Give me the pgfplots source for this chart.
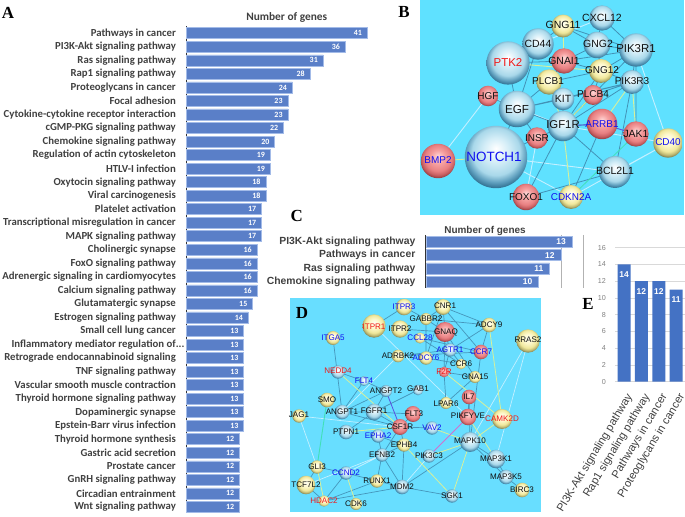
\documentclass[border=0pt]{standalone}
\usepackage{pgfplots}
\usepackage{fontspec}
\pgfplotsset{compat=1.18}
\setmainfont{Liberation Sans}
\newfontfamily\calf{Carlito}
\newfontfamily\timf{Liberation Serif}
\definecolor{txt}{HTML}{404040}
\definecolor{barA}{HTML}{5A7FC8}
\definecolor{barAe}{HTML}{A3BBE8}
\definecolor{barE}{HTML}{4472C4}
\definecolor{panelB}{HTML}{5FE1FF}
\definecolor{panelD}{HTML}{68DEFF}
\definecolor{edk}{HTML}{3D85AA}
\definecolor{elt}{HTML}{C4F0FF}
\definecolor{eyl}{HTML}{D8F09A}
\definecolor{etl}{HTML}{40E0B8}
\definecolor{epp}{HTML}{5A4FE0}
\definecolor{emg}{HTML}{D070D0}
\definecolor{bA}{HTML}{FFFFFF}\definecolor{bB}{HTML}{D3EDF7}\definecolor{bC}{HTML}{A9D8EA}\definecolor{bD}{HTML}{5F9FBE}\definecolor{bE}{HTML}{2F6F90}
\definecolor{rA}{HTML}{FFD8D8}\definecolor{rB}{HTML}{F5A0A0}\definecolor{rC}{HTML}{E88082}\definecolor{rD}{HTML}{C85F62}\definecolor{rE}{HTML}{8F3A3E}
\definecolor{yA}{HTML}{FFFFF4}\definecolor{yB}{HTML}{FDF8CC}\definecolor{yC}{HTML}{F0E89C}\definecolor{yD}{HTML}{BDB873}\definecolor{yE}{HTML}{77774A}
\pgfdeclareradialshading{bluesh}{\pgfpoint{0bp}{7bp}}{color(0bp)=(bA);color(10bp)=(bB);color(19bp)=(bC);color(24bp)=(bD);color(28bp)=(bE);color(50bp)=(bE)}
\pgfdeclareradialshading{redsh}{\pgfpoint{0bp}{7bp}}{color(0bp)=(rA);color(10bp)=(rB);color(19bp)=(rC);color(24bp)=(rD);color(28bp)=(rE);color(50bp)=(rE)}
\pgfdeclareradialshading{yelsh}{\pgfpoint{0bp}{7bp}}{color(0bp)=(yA);color(10bp)=(yB);color(19bp)=(yC);color(24bp)=(yD);color(28bp)=(yE);color(50bp)=(yE)}
\pgfdeclareplotmark{bb}{\pgfpathcircle{\pgfpointorigin}{\pgfplotmarksize}\pgfshadepath{bluesh}{0}\pgfusepath{discard}}
\pgfdeclareplotmark{rb}{\pgfpathcircle{\pgfpointorigin}{\pgfplotmarksize}\pgfshadepath{redsh}{0}\pgfusepath{discard}}
\pgfdeclareplotmark{yb}{\pgfpathcircle{\pgfpointorigin}{\pgfplotmarksize}\pgfshadepath{yelsh}{0}\pgfusepath{discard}}
\newcommand\B[4]{\addplot[only marks,mark=#4,mark size=#3] coordinates {(#1,#2)};}
\newcommand\Lb[5]{\node[inner sep=0pt,text=#4,font=\fontsize{#5}{#5}\selectfont] at (axis cs:#1,#2) {#3};}
\newcommand\Ld[4]{\node[inner sep=0pt,text=#4,font=\fontsize{8.1}{8.1}\selectfont] at (axis cs:#1,#2) {#3};}
\definecolor{lr}{HTML}{F01818}
\definecolor{lb}{HTML}{1010F0}
\definecolor{lk}{HTML}{101010}
\begin{document}
\begin{tikzpicture}[x=1bp,y=1bp]
\useasboundingbox (0,0) rectangle (685,517);
% networks B and D on the pixel grid of the figure
\begin{axis}[at={(0,0)},anchor=south west,scale only axis,width=685bp,height=517bp,
  xmin=0,xmax=685,ymin=0,ymax=517,y dir=reverse,hide axis,clip=false,unbounded coords=jump]
\addplot[draw=none,fill=panelB] coordinates {(420,0)(684,0)(684,215)(420,215)} --cycle;
\addplot[draw=none,fill=panelD] coordinates {(290,298)(541,298)(541,512)(290,512)} --cycle;
% B edges
\addplot[elt,line width=0.9pt] coordinates {(488,96)(438,161)(nan,nan)(488,96)(563,126)(nan,nan)(496,157)(615,172)(nan,nan)(668,143)(571,197)(nan,nan)(602,18)(538,44)(nan,nan)(496,157)(571,197)(nan,nan)(537,138)(526,197)(nan,nan)(563,126)(668,143)(nan,nan)(615,172)(668,143)(nan,nan)(636,50)(668,143)};
\addplot[edk,line width=0.8pt,opacity=.85] coordinates {(563,26)(597,45)(nan,nan)(563,26)(636,50)(nan,nan)(563,26)(564,61)(nan,nan)(563,26)(538,44)(nan,nan)(597,45)(564,61)(nan,nan)(597,45)(636,50)(nan,nan)(597,45)(601,71)(nan,nan)(564,61)(601,71)(nan,nan)(564,61)(549,82)(nan,nan)(564,61)(636,50)(nan,nan)(601,71)(636,50)(nan,nan)(601,71)(549,82)(nan,nan)(601,71)(632,82)(nan,nan)(636,50)(632,82)(nan,nan)(632,82)(593,95)(nan,nan)(593,95)(601,71)(nan,nan)(563,99)(517,109)(nan,nan)(563,99)(563,126)(nan,nan)(517,109)(563,126)(nan,nan)(517,109)(549,82)(nan,nan)(517,109)(508,63)(nan,nan)(517,109)(488,96)(nan,nan)(563,126)(537,138)(nan,nan)(563,126)(632,82)(nan,nan)(563,126)(636,50)(nan,nan)(563,126)(615,172)(nan,nan)(563,126)(526,197)(nan,nan)(632,82)(615,172)(nan,nan)(602,124)(571,197)(nan,nan)(636,134)(636,50)(nan,nan)(517,109)(496,157)(nan,nan)(538,44)(517,109)(nan,nan)(538,44)(508,63)(nan,nan)(549,82)(563,99)(nan,nan)(563,99)(632,82)(nan,nan)(593,95)(563,126)(nan,nan)(517,109)(632,82)(nan,nan)(508,63)(564,61)(nan,nan)(601,71)(563,126)(nan,nan)(537,138)(517,109)(nan,nan)(526,197)(615,172)(nan,nan)(496,157)(563,126)(nan,nan)(602,18)(597,45)(nan,nan)(602,18)(636,50)(nan,nan)(563,126)(602,124)};
\addplot[eyl,line width=0.9pt] coordinates {(549,82)(563,126)(nan,nan)(632,82)(602,124)(nan,nan)(563,26)(564,61)(nan,nan)(571,197)(563,126)(nan,nan)(632,82)(636,134)(nan,nan)(593,95)(563,126)(nan,nan)(438,161)(496,157)(nan,nan)(508,63)(601,71)};
\addplot[etl,line width=0.8pt] coordinates {(571,197)(636,134)};
\addplot[epp,line width=0.9pt] coordinates {(563,126)(602,124)(nan,nan)(602,124)(636,134)};
% B nodes
\B{602}{18}{12.7}{bb}\B{563}{26}{11.5}{yb}\B{538}{44}{15.7}{bb}\B{597}{45}{13.3}{bb}\B{636}{50}{16.7}{bb}\B{508}{63}{21.7}{bb}\B{564}{61}{12.7}{rb}\B{601}{71}{12}{yb}\B{549}{82}{12.7}{yb}\B{632}{82}{12}{bb}\B{488}{96}{10.3}{rb}\B{563}{99}{11.3}{bb}\B{593}{95}{10}{rb}\B{517}{109}{18.3}{bb}\B{563}{126}{15.3}{bb}\B{602}{124}{15.3}{rb}\B{636}{134}{12.7}{rb}\B{537}{138}{10.7}{rb}\B{668}{143}{14.7}{yb}\B{438}{161}{17.3}{rb}\B{496}{157}{31.3}{bb}\B{615}{172}{16}{bb}\B{526}{197}{13.3}{rb}\B{571}{197}{12}{yb}
% D edges
\addplot[elt,line width=0.7pt] coordinates {(299,416)(317,467)(nan,nan)(299,416)(400,427)(nan,nan)(528,341)(470,442)(nan,nan)(398,356)(342,412)(nan,nan)(306,485)(382,455)(nan,nan)(346,473)(382,455)(nan,nan)(374,326)(468,417)(nan,nan)(528,341)(496,459)(nan,nan)(402,487)(429,456)};
\addplot[edk,line width=0.7pt,opacity=.8] coordinates {(404,307)(374,326)(nan,nan)(404,307)(426,319)(nan,nan)(443,307)(445,332)(nan,nan)(443,307)(426,319)(nan,nan)(443,307)(489,325)(nan,nan)(443,307)(481,352)(nan,nan)(443,307)(426,358)(nan,nan)(426,319)(445,332)(nan,nan)(426,319)(426,358)(nan,nan)(426,319)(489,325)(nan,nan)(400,329)(445,332)(nan,nan)(489,325)(450,350)(nan,nan)(489,325)(481,352)(nan,nan)(445,332)(450,350)(nan,nan)(445,332)(444,372)(nan,nan)(445,332)(475,377)(nan,nan)(450,350)(461,364)(nan,nan)(450,350)(444,372)(nan,nan)(420,338)(481,352)(nan,nan)(420,338)(461,364)(nan,nan)(398,356)(450,350)(nan,nan)(398,356)(481,352)(nan,nan)(426,358)(461,364)(nan,nan)(444,372)(475,377)(nan,nan)(475,377)(446,403)(nan,nan)(333,338)(342,412)(nan,nan)(338,372)(364,381)(nan,nan)(386,391)(364,381)(nan,nan)(386,391)(374,412)(nan,nan)(386,391)(342,412)(nan,nan)(374,412)(413,414)(nan,nan)(374,412)(400,427)(nan,nan)(374,412)(342,412)(nan,nan)(374,412)(346,432)(nan,nan)(374,412)(418,390)(nan,nan)(342,412)(364,381)(nan,nan)(342,412)(400,427)(nan,nan)(413,414)(400,427)(nan,nan)(400,427)(432,428)(nan,nan)(400,427)(404,445)(nan,nan)(400,427)(382,455)(nan,nan)(378,436)(382,455)(nan,nan)(378,436)(404,445)(nan,nan)(382,455)(404,445)(nan,nan)(382,455)(377,481)(nan,nan)(382,455)(402,487)(nan,nan)(404,445)(402,487)(nan,nan)(402,487)(470,442)(nan,nan)(402,487)(452,496)(nan,nan)(402,487)(324,501)(nan,nan)(377,481)(324,501)(nan,nan)(346,473)(324,501)(nan,nan)(346,473)(377,481)(nan,nan)(470,442)(496,459)(nan,nan)(470,442)(506,477)(nan,nan)(496,459)(506,477)(nan,nan)(506,477)(522,490)(nan,nan)(468,417)(469,397)(nan,nan)(470,442)(469,397)(nan,nan)(377,481)(402,487)(nan,nan)(317,467)(306,485)(nan,nan)(317,467)(346,473)(nan,nan)(306,485)(324,501)(nan,nan)(470,442)(481,352)(nan,nan)(446,403)(475,377)(nan,nan)(444,372)(446,403)};
\addplot[eyl,line width=0.8pt] coordinates {(338,372)(400,427)(nan,nan)(489,325)(502,419)(nan,nan)(317,467)(324,501)(nan,nan)(346,473)(356,504)(nan,nan)(452,496)(470,442)(nan,nan)(452,496)(404,445)(nan,nan)(432,428)(470,442)(nan,nan)(429,456)(470,442)(nan,nan)(502,419)(444,372)(nan,nan)(502,419)(470,442)(nan,nan)(346,432)(400,427)(nan,nan)(496,459)(468,417)};
\addplot[etl,line width=0.9pt] coordinates {(327,400)(317,467)};
\addplot[emg,line width=0.9pt] coordinates {(468,417)(429,456)};
\addplot[epp,line width=0.8pt] coordinates {(386,391)(400,427)};
% D nodes
\B{404}{307}{8.3}{yb}\B{443}{307}{8}{yb}\B{374}{326}{11.7}{yb}\B{426}{319}{6}{yb}\B{400}{329}{8.7}{yb}\B{445}{332}{10}{rb}\B{489}{325}{7.3}{yb}\B{333}{338}{7}{yb}\B{420}{338}{5.5}{yb}\B{528}{341}{11.7}{yb}\B{450}{350}{6.7}{bb}\B{481}{352}{7.3}{rb}\B{398}{356}{6.3}{yb}\B{426}{358}{6.7}{yb}\B{461}{364}{5.3}{yb}\B{338}{372}{6.7}{bb}\B{444}{372}{5.3}{rb}\B{475}{377}{6}{yb}\B{364}{381}{5}{bb}\B{386}{391}{6}{bb}\B{418}{390}{5.3}{bb}\B{327}{400}{7.3}{yb}\B{446}{403}{6}{yb}\B{469}{397}{7.3}{rb}\B{342}{412}{7.3}{bb}\B{374}{412}{8.3}{bb}\B{413}{414}{8}{rb}\B{468}{417}{8.3}{rb}\B{502}{419}{10}{yb}\B{299}{416}{6.7}{yb}\B{400}{427}{8}{rb}\B{346}{432}{7.3}{bb}\B{432}{428}{6.7}{bb}\B{378}{436}{6.7}{bb}\B{470}{442}{10}{bb}\B{404}{445}{6.7}{yb}\B{429}{456}{6.7}{bb}\B{382}{455}{6.7}{bb}\B{496}{459}{9.3}{bb}\B{317}{467}{6.7}{yb}\B{346}{473}{6.7}{bb}\B{506}{477}{7.3}{bb}\B{377}{481}{6.7}{yb}\B{306}{485}{9.3}{yb}\B{402}{487}{7.3}{bb}\B{522}{490}{7.3}{yb}\B{452}{496}{6.7}{bb}\B{324}{501}{5.7}{yb}\B{356}{504}{6}{yb}
\end{axis}
% labels of the networks, in an axis of their own above the balls
\begin{axis}[at={(0,0)},anchor=south west,scale only axis,width=685bp,height=517bp,
  xmin=0,xmax=685,ymin=0,ymax=517,y dir=reverse,hide axis,clip=false]
\addplot[draw=none] coordinates {(0,0)(685,517)};
% B labels
\Lb{602}{18}{CXCL12}{lk}{10.5}\Lb{563}{25}{GNG11}{lk}{10.5}\Lb{538}{44}{CD44}{lk}{10.5}\Lb{598}{44}{GNG2}{lk}{10.5}\Lb{636}{49}{PIK3R1}{lk}{11.5}\Lb{508}{63}{PTK2}{lr}{11.5}\Lb{564}{61}{GNAI1}{lk}{10.5}\Lb{602}{70}{GNG12}{lk}{10}\Lb{548}{81}{PLCB1}{lk}{10}\Lb{632}{81}{PIK3R3}{lk}{10}\Lb{488}{96}{HGF}{lk}{10}\Lb{563}{99}{KIT}{lk}{10.5}\Lb{593}{94}{PLCB4}{lk}{10}\Lb{517}{109}{EGF}{lk}{11.7}\Lb{563}{125}{IGF1R}{lk}{11.4}\Lb{602}{124}{ARRB1}{lb}{10}\Lb{636}{134}{JAK1}{lk}{10.5}\Lb{537}{138}{INSR}{lk}{10}\Lb{668}{142}{CD40}{lb}{10}\Lb{438}{160}{BMP2}{lb}{10}\Lb{494}{157}{NOTCH1}{lb}{13.5}\Lb{615}{171}{BCL2L1}{lk}{10.5}\Lb{526}{197}{FOXO1}{lk}{10}\Lb{571}{197}{CDKN2A}{lb}{10}
% D labels
\Ld{404}{307}{ITPR3}{lb}\Ld{445}{306}{CNR1}{lk}\Ld{374}{327}{ITPR1}{lr}\Ld{426}{319}{GABBR2}{lk}\Ld{400}{329}{ITPR2}{lk}\Ld{446}{332}{GNAQ}{lk}\Ld{489}{325}{ADCY9}{lk}\Ld{333}{338}{ITGA5}{lb}\Ld{420}{338}{CCL28}{lb}\Ld{528}{340}{RRAS2}{lk}\Ld{450}{350}{AGTR1}{lb}\Ld{481}{352}{CCR7}{lb}\Ld{398}{356}{ADRBK2}{lk}\Ld{426}{358}{ADCY6}{lb}\Ld{461}{364}{CCR6}{lk}\Ld{338}{371}{NEDD4}{lr}\Ld{444}{372}{F2R}{lr}\Ld{475}{377}{GNA15}{lk}\Ld{364}{381}{FLT4}{lb}\Ld{386}{391}{ANGPT2}{lk}\Ld{418}{389}{GAB1}{lk}\Ld{327}{400}{SMO}{lk}\Ld{446}{404}{LPAR6}{lk}\Ld{469}{397}{IL7}{lk}\Ld{342}{412}{ANGPT1}{lk}\Ld{374}{411}{FGFR1}{lk}\Ld{414}{414}{FLT3}{lk}\Ld{468}{416}{PIKFYVE}{lk}\Ld{502}{419}{CAMK2D}{lr}\Ld{299}{415}{JAG1}{lk}\Ld{400}{427}{CSF1R}{lk}\Ld{346}{432}{PTPN1}{lk}\Ld{432}{428}{VAV2}{lb}\Ld{378}{436}{EPHA2}{lb}\Ld{470}{441}{MAPK10}{lk}\Ld{404}{445}{EPHB4}{lk}\Ld{429}{456}{PIK3C3}{lk}\Ld{382}{455}{EFNB2}{lk}\Ld{496}{459}{MAP3K1}{lk}\Ld{317}{467}{GLI3}{lk}\Ld{346}{473}{CCND2}{lb}\Ld{506}{477}{MAP3K5}{lk}\Ld{377}{481}{RUNX1}{lk}\Ld{306}{485}{TCF7L2}{lk}\Ld{402}{487}{MDM2}{lk}\Ld{522}{490}{BIRC3}{lk}\Ld{452}{496}{SGK1}{lk}\Ld{324}{501}{HDAC2}{lr}\Ld{356}{504}{CDK6}{lk}
\end{axis}
% Panel A
\begin{axis}[at={(186.5bp,4bp)},anchor=south west,scale only axis,width=198.3bp,height=487bp,
  xbar,bar width=11bp,xmin=0,xmax=45,ymin=-0.54,ymax=35.45,y dir=reverse,
  axis x line=none,axis y line*=left,axis line style={black!80,line width=1.1pt},
  ytick=data,major tick length=0pt,/pgf/number format/assume math mode=true,
  yticklabels={Pathways in cancer,PI3K-Akt signaling pathway,Ras signaling pathway,Rap1 signaling pathway,Proteoglycans in cancer,Focal adhesion,Cytokine-cytokine receptor interaction,cGMP-PKG signaling pathway,Chemokine signaling pathway,Regulation of actin cytoskeleton,HTLV-I infection,Oxytocin signaling pathway,Viral carcinogenesis,Platelet activation,Transcriptional misregulation in cancer,MAPK signaling pathway,Cholinergic synapse,FoxO signaling pathway,Adrenergic signaling in cardiomyocytes,Calcium signaling pathway,Glutamatergic synapse,Estrogen signaling pathway,Small cell lung cancer,Inflammatory mediator regulation of\rlap{...},Retrograde endocannabinoid signaling,TNF signaling pathway,Vascular smooth muscle contraction,Thyroid hormone signaling pathway,Dopaminergic synapse,Epstein-Barr virus infection,Thyroid hormone synthesis,Gastric acid secretion,Prostate cancer,GnRH signaling pathway,Circadian entrainment,Wnt signaling pathway},
  yticklabel style={font=\calf\bfseries\fontsize{10.8}{11}\selectfont,text=txt,inner sep=0pt,xshift=-10.5bp},
  nodes near coords,point meta=explicit,
  nodes near coords style={font=\calf\bfseries\fontsize{8}{8}\selectfont,text=white,anchor=east,inner sep=0pt,xshift=-5bp},
  clip=false]
\addplot[fill=barA,draw=barAe,line width=0.6pt] coordinates {
(41,0)[41](36,1)[36](31,2)[31](28,3)[28](24,4)[24](23,5)[23](23,6)[23](22,7)[22](20,8)[20](19,9)[19](19,10)[19](18,11)[18](18,12)[18](17,13)[17](17,14)[17](17,15)[17](16,16)[16](16,17)[16](16,18)[16](16,19)[16](15,20)[15](14,21)[14](13,22)[13](13,23)[13](13,24)[13](13,25)[13](13,26)[13](13,27)[13](13,28)[13](13,29)[13](12,30)[12](12,31)[12](12,32)[12](12,33)[12](12,34)[12](12,35)[12]};
\end{axis}
% Panel C
\begin{axis}[at={(426.5bp,229bp)},anchor=south west,scale only axis,width=156.8bp,height=53bp,
  xmin=0,xmax=14,ymin=-0.5,ymax=3.455,y dir=reverse,
  axis x line=none,axis y line=left,axis line style={draw=none},
  ytick={0,1,2,3},major tick length=0pt,/pgf/number format/assume math mode=true,
  yticklabels={PI3K-Akt signaling pathway,Pathways in cancer,Ras signaling pathway,Chemokine signaling pathway},
  yticklabel style={font=\bfseries\fontsize{10.4}{11}\selectfont,text=txt,inner sep=0pt,xshift=-11bp},
  clip=false,unbounded coords=jump]
\addplot[draw=gray!60,line width=0.5pt] coordinates {(12,-0.5)(12,3.455)(nan,nan)(14,-0.5)(14,3.455)};
\addplot[black!80,line width=1.1pt] coordinates {(-0.09,-0.5)(-0.09,3.455)};
\addplot[xbar,bar width=11bp,fill=barA,draw=barAe,line width=0.6pt,nodes near coords,point meta=explicit,
  nodes near coords style={font=\bfseries\fontsize{8.5}{9}\selectfont,text=white,anchor=east,inner sep=0pt,xshift=-6bp}] coordinates {(13,0)[13](12,1)[12](11,2)[11](10,3)[10]};
\end{axis}
% Panel E
\begin{axis}[at={(615bp,135.3bp)},anchor=south west,scale only axis,width=70bp,height=134bp,
  ybar,bar width=13bp,xmin=-0.517,xmax=3.506,ymin=0,ymax=16,
  axis y line=left,axis x line=bottom,axis line style={draw=none},
  ymajorgrids,grid style={gray!30,line width=0.6pt},
  xtick={0,1,2,3},major tick length=0pt,ytick={0,2,...,16},
  /pgf/number format/assume math mode=true,
  yticklabel style={font=\fontsize{7.2}{8}\selectfont,text=gray,inner sep=0pt,xshift=-9bp},
  xticklabels={PI3K-Akt signaling pathway,Rap1 signaling pathway,Pathways in cancer,Proteoglycans in cancer},
  xticklabel style={font=\fontsize{11.2}{11.2}\selectfont,text=txt,rotate=59,anchor=east,inner sep=0pt,yshift=-12bp,xshift=-8bp},
  nodes near coords,
  nodes near coords style={font=\bfseries\fontsize{8.5}{9}\selectfont,text=white,anchor=north,inner sep=0pt,yshift=-7bp},
  clip=false]
\addplot[fill=barE,draw=none] coordinates {(0,14)(1,12)(2,12)(3,11)};
\end{axis}
% titles and letters
\node[font=\calf\bfseries\fontsize{11.4}{12}\selectfont,text=txt] at (286.7,499.7) {Number of genes};
\node[font=\bfseries\fontsize{10}{11}\selectfont,text=txt] at (485,286) {Number of genes};
\node[font=\timf\bfseries\fontsize{17}{17}\selectfont] at (8,504.3) {A};
\node[font=\timf\bfseries\fontsize{17}{17}\selectfont] at (404,505) {B};
\node[font=\timf\bfseries\fontsize{17}{17}\selectfont] at (296.7,301) {C};
\node[font=\timf\bfseries\fontsize{17}{17}\selectfont] at (302,204) {D};
\node[font=\timf\bfseries\fontsize{17}{17}\selectfont] at (588,213) {E};
\end{tikzpicture}
\end{document}
